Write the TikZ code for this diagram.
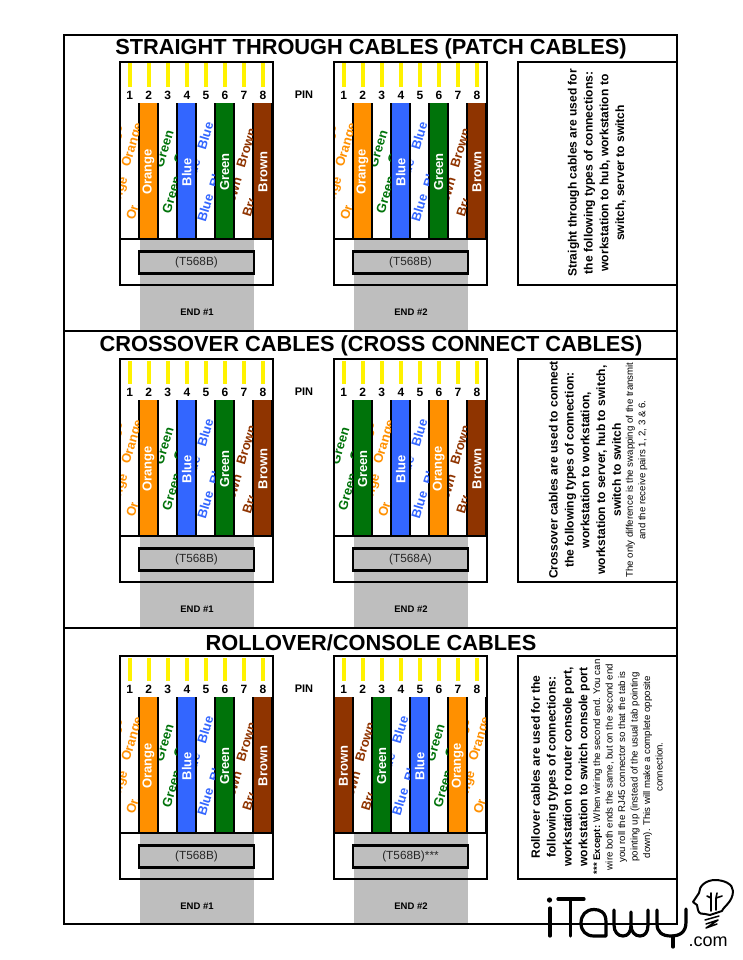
\documentclass[tikz,border=0pt]{standalone}
\usepackage{fontspec}
\setmainfont{Liberation Sans}
\definecolor{corange}{HTML}{FF9000}
\definecolor{cblue}{HTML}{3366FF}
\definecolor{cgreen}{HTML}{00730A}
\definecolor{cbrown}{HTML}{8F3400}
\definecolor{cgray}{HTML}{BEBEBE}
\newcommand\fsz[2]{\fontsize{#1}{#2}\selectfont}
\tikzset{
  wiretext/.style={font=\bfseries\fsz{13}{15},inner sep=0pt},
  slanted/.style={wiretext,rotate=73},
  pinnum/.style={font=\bfseries\fsz{12}{14},inner sep=0pt},
  titletext/.style={font=\bfseries\fsz{21.8}{26},inner sep=0pt},
  smalllabel/.style={font=\bfseries\fsz{9.5}{11},inner sep=0pt},
  pinlabel/.style={font=\bfseries\fsz{11}{12},inner sep=0pt},
  boxbold/.style={font=\bfseries\fsz{12.05}{15.8},rotate=90,align=center,inner sep=0pt},
  boxsmall/.style={font=\fsz{9.65}{12.5},rotate=90,align=center,inner sep=0pt},
  heavy/.style={draw=black,line width=2.2pt},
  logoline/.style={line width=3.2pt,line cap=round,line join=round},
  bulbline/.style={line width=2pt,line cap=round,line join=round}
}
\newcommand\piece[5]{\begin{scope}\clip (0.8,#5) rectangle (18.2,177);\node[slanted,text=#2] at (#3,#4) {#1};\end{scope}}
\newcommand\whiteO{\fill[white] (1,41) rectangle (18,176);
  \begin{scope}\clip (1,41) rectangle (18,176);
  \piece{Orange}{corange}{13}{83}{41}\piece{Orange}{corange}{-7}{85}{41}
  \piece{Orange}{corange}{-2}{137}{41}\piece{Orange}{corange}{18}{136}{143}\end{scope}}
\newcommand\whiteG{\fill[white] (1,41) rectangle (18,176);
  \begin{scope}\clip (1,41) rectangle (18,176);
  \piece{Green}{cgreen}{6}{87}{41}\piece{Green}{cgreen}{13.5}{133}{41}
  \piece{Green}{cgreen}{25}{83}{41}\end{scope}}
\newcommand\whiteB{\fill[white] (1,41) rectangle (18,176);
  \begin{scope}\clip (1,41) rectangle (18,176);
  \piece{Blue}{cblue}{9}{74}{41}\piece{Blue}{cblue}{9}{146}{41}
  \piece{Blue}{cblue}{-4}{111}{41}\piece{Blue}{cblue}{21}{112}{41}\end{scope}}
\newcommand\whiteN{\fill[white] (1,41) rectangle (18,176);
  \begin{scope}\clip (1,41) rectangle (18,176);
  \piece{Brown}{cbrown}{12}{86}{41}\piece{Brown}{cbrown}{-2.4}{135}{41}
  \piece{Brown}{cbrown}{18}{135}{136}\end{scope}}
\newcommand\solidwire[2]{\fill[#1] (1,41) rectangle (18,176);
  \node[wiretext,text=white,rotate=90] at (9.5,110) {#2};}
\newcommand\solidO{\solidwire{corange}{Orange}}
\newcommand\solidG{\solidwire{cgreen}{Green}}
\newcommand\solidB{\solidwire{cblue}{Blue}}
\newcommand\solidN{\solidwire{cbrown}{Brown}}
\newcommand\plug[5]{%
  \begin{scope}[shift={(#1,#2)}]
    \fill[white] (0,0) rectangle (153,223);
    \fill[cgray] (20,177) rectangle (134,269);
    \fill[black] (0,41) rectangle (153,178);
    \foreach \k/\w in {#3}{
      \begin{scope}[shift={({(\k-1)*19.05},0)}]
        \fill[white] (0,2) rectangle (19,40);
        \fill[yellow] (7.5,1.5) rectangle (11.5,25);
        \node[pinnum] at (9.7,33) {\k};
        \csname\w\endcsname
      \end{scope}}
    \draw[heavy] (0,0) rectangle (153,223);
    \draw[heavy,fill=cgray] (19,189.5) rectangle (134,211.5);
    \node[inner sep=0pt,text=black!85,font=\fsz{11.8}{14}] at (76.5,200.5) {#4};
    \node[smalllabel] at (77,250) {#5};
  \end{scope}}
\begin{document}
\begin{tikzpicture}[x=1pt,y=-1pt]
\useasboundingbox (0,0) rectangle (742,960);
\fill[white] (0,0) rectangle (742,960);
\plug{120}{62}{1/whiteO,2/solidO,3/whiteG,4/solidB,5/whiteB,6/solidG,7/whiteN,8/solidN}{(T568B)}{END \#1}
\plug{334}{62}{1/whiteO,2/solidO,3/whiteG,4/solidB,5/whiteB,6/solidG,7/whiteN,8/solidN}{(T568B)}{END \#2}
\plug{120}{359}{1/whiteO,2/solidO,3/whiteG,4/solidB,5/whiteB,6/solidG,7/whiteN,8/solidN}{(T568B)}{END \#1}
\plug{334}{359}{1/whiteG,2/solidG,3/whiteO,4/solidB,5/whiteB,6/solidO,7/whiteN,8/solidN}{(T568A)}{END \#2}
\plug{120}{656}{1/whiteO,2/solidO,3/whiteG,4/solidB,5/whiteB,6/solidG,7/whiteN,8/solidN}{(T568B)}{END \#1}
\plug{334}{656}{1/solidN,2/whiteN,3/solidG,4/whiteB,5/solidB,6/whiteG,7/solidO,8/whiteO}{(T568B)***}{END \#2}
\draw[heavy] (64,35) rectangle (677,924);
\draw[heavy] (64,331) -- (677,331);
\draw[heavy] (64,628) -- (677,628);
\node[titletext] (t1) at (371,48.5) {STRAIGHT THROUGH CABLES (PATCH CABLES)};
\node[titletext] (t2) at (371,345.5) {CROSSOVER CABLES (CROSS CONNECT CABLES)};
\node[titletext] (t3) at (371,642.5) {ROLLOVER/CONSOLE CABLES};
\node[pinlabel] (p1) at (304,95) {PIN};
\node[pinlabel] (p2) at (304,392) {PIN};
\node[pinlabel] (p3) at (304,689) {PIN};
\draw[heavy,fill=white] (518,62) rectangle (677,285);
\draw[heavy,fill=white] (518,359) rectangle (677,582);
\draw[heavy,fill=white] (518,656) rectangle (677,879);
\node[boxbold] (b1) at (597,173) {Straight through cables are used for\\the following types of connections:\\workstation to hub, workstation to\\switch, server to switch};
\node[boxbold] (b2) at (585,470) {Crossover cables are used to connect\\the following types of connection:\\workstation to workstation,\\workstation to server, hub to switch,\\switch to switch};
\node[boxsmall] (s2) at (636.5,470) {The only difference is the swapping of the transmit\\and the receive pairs 1, 2, 3 \& 6.};
\node[boxbold] (b3) at (560.5,767) {Rollover cables are used for the\\following types of connections:\\workstation to router console port,\\workstation to switch console port};
\node[boxsmall] (s3) at (628,767) {\textbf{*** Except:} When wiring the second end. You can\\wire both ends the same, but on the second end\\you roll the RJ45 connector so that the tab is\\pointing up (instead of the usual tab pointing\\down). This will make a complete opposite\\connection.};
\fill (549.5,900) circle (2.6);
\draw[logoline] (550,908) -- (550,936);
\draw[logoline] (558,899) -- (584,899) (570.5,899) -- (570.5,936);
\draw[logoline] (606,936) -- (606,922) .. controls (606,912) and (600,909.5) .. (594,909.5) .. controls (586,909.5) and (581,915) .. (581,923) .. controls (581,931) and (586,936) .. (594,936) -- (606,936);
\draw[logoline] (614,910) -- (614,925) .. controls (614,932) and (618,936) .. (623,936) .. controls (628,936) and (631,932) .. (631,925) -- (631,912) (631,925) .. controls (631,932) and (635,936) .. (640,936) .. controls (645,936) and (648,932) .. (648,925) -- (648,910);
\draw[logoline] (657,910) -- (657,924) .. controls (657,932) and (662,936) .. (671,936) .. controls (680,936) and (686,932) .. (686,922) -- (686,909);
\draw[logoline] (673,936) -- (673,947);
\draw[bulbline] (722,911) .. controls (723,907) and (733,902) .. (733,891) .. controls (733,884) and (724,880) .. (715,880) .. controls (706,880) and (699,886) .. (699,893) -- (693,902) -- (697,905) -- (698,910) .. controls (699,914) and (702,914) .. (705,914) -- (710,915) -- (722,911);
\draw[line width=1.6pt,line cap=round,line join=round] (711,911) -- (711,898) -- (707,896) (711,898) -- (711,893) (716,910) -- (716,898) -- (717,893) (716,898) -- (722,896);
\draw[line width=1.5pt,line cap=round,line join=round] (705,920) -- (719,916) (706,924) -- (718,920) -- (706,928) -- (717,924);
\node[inner sep=0pt,font=\fsz{18}{20}] (com) at (708,942) {.com};
\end{tikzpicture}
\end{document}
